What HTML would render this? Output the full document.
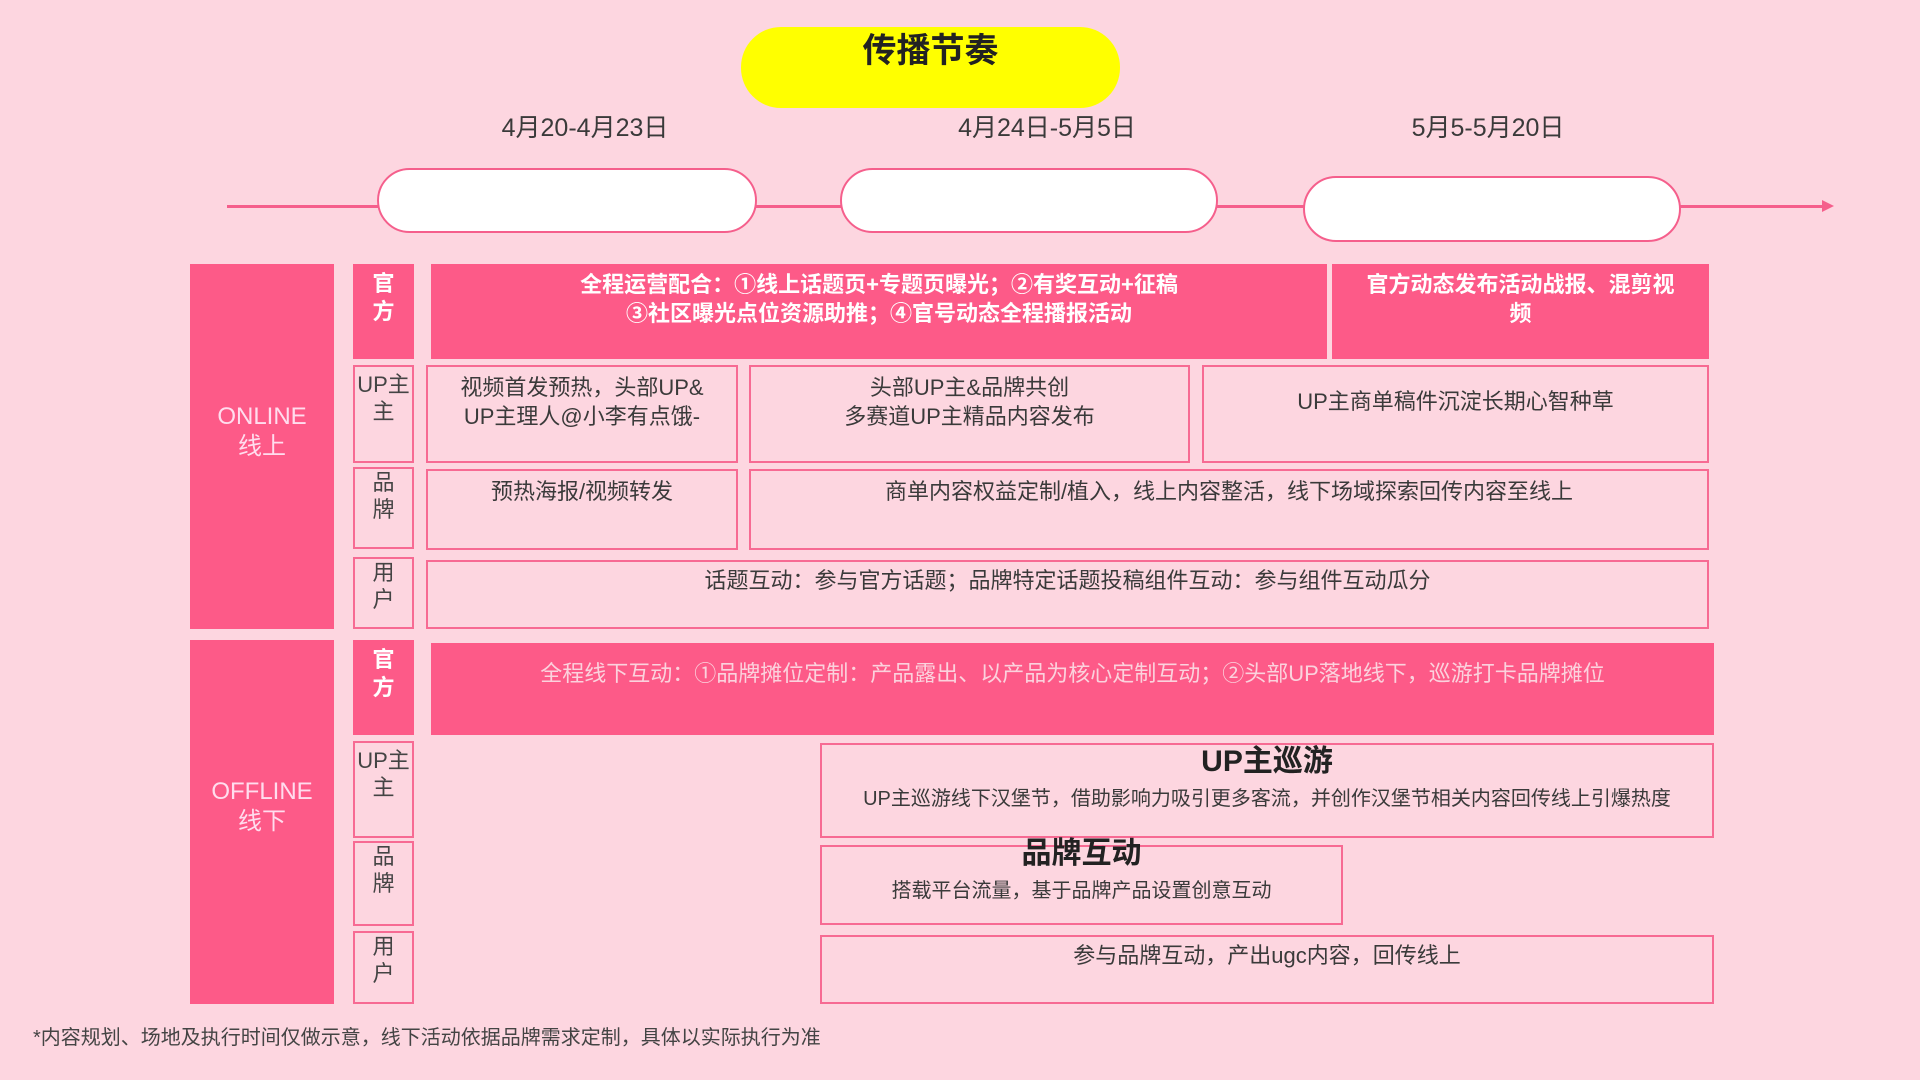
<!DOCTYPE html>
<html><head><meta charset="utf-8"><style>
body{margin:0;width:1920px;height:1080px;background:#fdd6e0;position:relative;overflow:hidden;font-family:"Liberation Sans","Noto Sans CJK SC",sans-serif;color:#3a3a3a}
.a{position:absolute;box-sizing:border-box}
.blk{background:#fd5a88}
.bx{border:2px solid #f76a93;background:#fdd6e0}
.c{display:flex;flex-direction:column;align-items:center;text-align:center}
.lab{font-size:22px;line-height:27px;color:#444;padding-top:4px}
.t{font-size:22px;line-height:29px;padding-top:6px}
</style></head><body>
<div class="a" style="left:741px;top:27px;width:379px;height:81px;background:#ffff00;border-radius:40px;text-align:center;font-size:34px;font-weight:bold;line-height:40px;padding-top:4px;color:#222">传播节奏</div>
<div class="a" style="left:435px;top:108px;width:300px;text-align:center;font-size:25px">4月20-4月23日</div>
<div class="a" style="left:897px;top:108px;width:300px;text-align:center;font-size:25px">4月24日-5月5日</div>
<div class="a" style="left:1338px;top:108px;width:300px;text-align:center;font-size:25px">5月5-5月20日</div>
<div class="a" style="left:227px;top:205px;width:1600px;height:3px;background:#f55f8c"></div>
<div class="a" style="left:1822px;top:200px;width:0;height:0;border-left:12px solid #f55f8c;border-top:6px solid transparent;border-bottom:6px solid transparent"></div>
<div class="a" style="left:377px;top:168px;width:380px;height:65px;border:2px solid #f55f8c;border-radius:33px;background:#fff"></div>
<div class="a" style="left:840px;top:168px;width:378px;height:65px;border:2px solid #f55f8c;border-radius:33px;background:#fff"></div>
<div class="a" style="left:1303px;top:176px;width:378px;height:66px;border:2px solid #f55f8c;border-radius:33px;background:#fff"></div>

<div class="a blk c" style="left:190px;top:264px;width:144px;height:365px;justify-content:center;color:#fde;font-size:24px;line-height:30px;padding-bottom:30px">ONLINE<br>线上</div>
<div class="a blk c" style="left:190px;top:640px;width:144px;height:364px;justify-content:center;color:#fde;font-size:24px;line-height:30px;padding-bottom:30px">OFFLINE<br>线下</div>

<div class="a blk c" style="left:353px;top:264px;width:61px;height:95px;color:#fff;font-weight:bold;font-size:22px;line-height:28px;padding-top:6px">官<br>方</div>
<div class="a bx c lab" style="left:353px;top:365px;width:61px;height:98px">UP主<br>主</div>
<div class="a bx c lab" style="left:353px;top:467px;width:61px;height:82px;padding-top:0">品<br>牌</div>
<div class="a bx c lab" style="left:353px;top:557px;width:61px;height:72px;padding-top:0">用<br>户</div>
<div class="a blk c" style="left:353px;top:640px;width:61px;height:95px;color:#fff;font-weight:bold;font-size:22px;line-height:28px;padding-top:6px">官<br>方</div>
<div class="a bx c lab" style="left:353px;top:741px;width:61px;height:97px">UP主<br>主</div>
<div class="a bx c lab" style="left:353px;top:841px;width:61px;height:85px;padding-top:0">品<br>牌</div>
<div class="a bx c lab" style="left:353px;top:931px;width:61px;height:73px;padding-top:0">用<br>户</div>

<div class="a blk c" style="left:431px;top:264px;width:896px;height:95px;color:#fff;font-weight:bold;font-size:22px;line-height:29px;padding-top:6px">全程运营配合：①线上话题页+专题页曝光；②有奖互动+征稿<br>③社区曝光点位资源助推；④官号动态全程播报活动</div>
<div class="a blk c" style="left:1332px;top:264px;width:377px;height:95px;color:#fff;font-weight:bold;font-size:22px;line-height:29px;padding-top:6px">官方动态发布活动战报、混剪视<br>频</div>
<div class="a bx c t" style="left:426px;top:365px;width:312px;height:98px">视频首发预热，头部UP&amp;<br>UP主理人@小李有点饿-</div>
<div class="a bx c t" style="left:749px;top:365px;width:441px;height:98px">头部UP主&amp;品牌共创<br>多赛道UP主精品内容发布</div>
<div class="a bx c t" style="left:1202px;top:365px;width:507px;height:98px;padding-top:20px">UP主商单稿件沉淀长期心智种草</div>
<div class="a bx c t" style="left:426px;top:469px;width:312px;height:81px">预热海报/视频转发</div>
<div class="a bx c t" style="left:749px;top:469px;width:960px;height:81px">商单内容权益定制/植入，线上内容整活，线下场域探索回传内容至线上</div>
<div class="a bx c t" style="left:426px;top:560px;width:1283px;height:69px;padding-top:4px">话题互动：参与官方话题；品牌特定话题投稿组件互动：参与组件互动瓜分</div>

<div class="a blk c" style="left:431px;top:643px;width:1283px;height:92px;color:#fbd2dd;font-size:22px;line-height:29px;padding-top:16px">全程线下互动：①品牌摊位定制：产品露出、以产品为核心定制互动；②头部UP落地线下，巡游打卡品牌摊位</div>
<div class="a bx c" style="left:820px;top:743px;width:894px;height:95px"><div style="font-size:30px;font-weight:bold;color:#222;line-height:34px;margin-top:0">UP主巡游</div><div style="font-size:20px;line-height:28px;margin-top:6px">UP主巡游线下汉堡节，借助影响力吸引更多客流，并创作汉堡节相关内容回传线上引爆热度</div></div>
<div class="a bx c" style="left:820px;top:845px;width:523px;height:80px"><div style="font-size:30px;font-weight:bold;color:#222;line-height:34px;margin-top:-10px">品牌互动</div><div style="font-size:20px;line-height:28px;margin-top:6px">搭载平台流量，基于品牌产品设置创意互动</div></div>
<div class="a bx c t" style="left:820px;top:935px;width:894px;height:69px;padding-top:4px">参与品牌互动，产出ugc内容，回传线上</div>

<div class="a" style="left:33px;top:1025px;font-size:20px;line-height:26px;color:#444">*内容规划、场地及执行时间仅做示意，线下活动依据品牌需求定制，具体以实际执行为准</div>
</body></html>
